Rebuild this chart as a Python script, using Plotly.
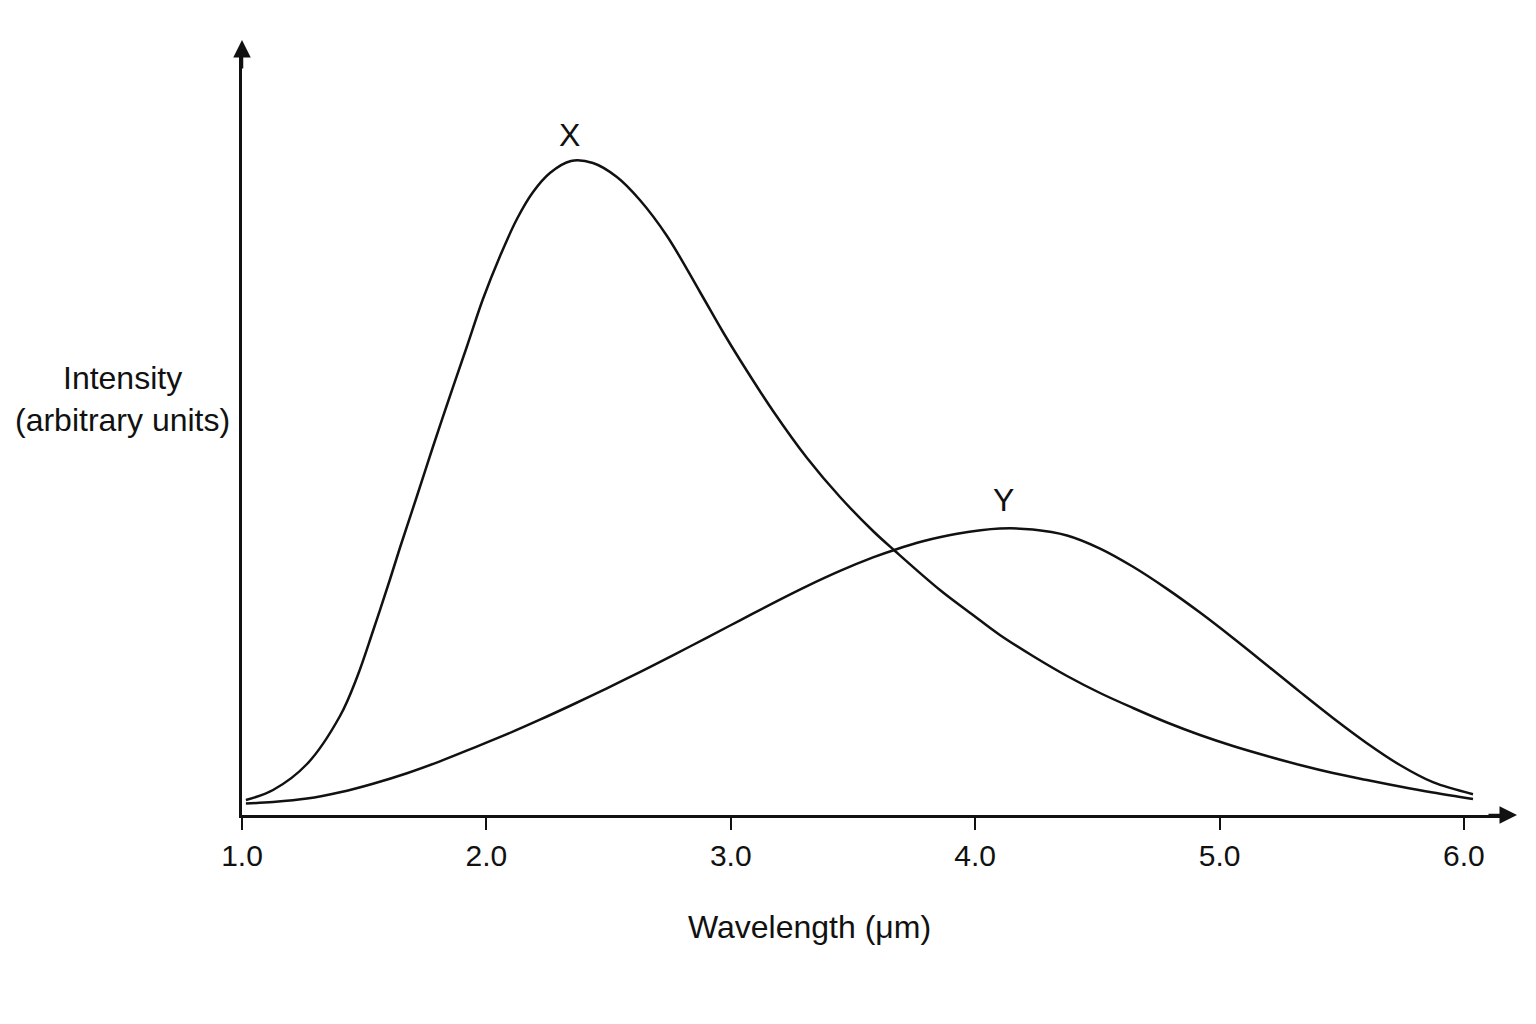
import plotly.graph_objects as go

# wavelength (um) and intensity (arbitrary units)
wl_x = [1.016, 1.127, 1.266, 1.401, 1.471, 1.536, 1.606, 1.646, 1.716, 1.781,
        1.851, 1.921, 1.986, 2.056, 2.125, 2.191, 2.260, 2.346, 2.436, 2.534,
        2.628, 2.739, 2.874, 2.968, 3.038, 3.173, 3.312, 3.447, 3.582, 3.672,
        3.856, 3.991, 4.101, 4.236, 4.376, 4.511, 4.646, 4.785, 4.920, 5.055,
        5.194, 5.329, 5.464, 5.603, 5.738, 5.873, 6.037]
int_x = [0.15, 0.25, 0.51, 0.99, 1.38, 1.84, 2.36, 2.67, 3.19, 3.68,
         4.19, 4.69, 5.16, 5.59, 5.96, 6.23, 6.42, 6.54, 6.52, 6.38,
         6.15, 5.79, 5.23, 4.83, 4.55, 4.04, 3.57, 3.18, 2.84, 2.64,
         2.25, 2.00, 1.80, 1.59, 1.39, 1.22, 1.07, 0.925, 0.80, 0.69,
         0.59, 0.50, 0.42, 0.35, 0.285, 0.225, 0.16]

wl_y = [1.016, 1.127, 1.266, 1.401, 1.536, 1.675, 1.810, 1.945, 2.084, 2.219,
        2.354, 2.493, 2.628, 2.763, 2.903, 3.038, 3.173, 3.312, 3.447, 3.582,
        3.672, 3.786, 3.926, 4.101, 4.236, 4.376, 4.511, 4.646, 4.785, 4.920,
        5.055, 5.194, 5.329, 5.464, 5.603, 5.738, 5.873, 6.037]
int_y = [0.115, 0.13, 0.164, 0.227, 0.313, 0.418, 0.537, 0.669, 0.808, 0.953,
         1.105, 1.267, 1.429, 1.597, 1.774, 1.947, 2.119, 2.289, 2.441, 2.576,
         2.653, 2.737, 2.812, 2.864, 2.855, 2.795, 2.664, 2.482, 2.261, 2.024,
         1.77, 1.498, 1.231, 0.97, 0.718, 0.50, 0.328, 0.208]

tick_vals = [1.0, 2.0, 3.0, 4.0, 5.0, 6.0]
tick_text = ["1.0", "2.0", "3.0", "4.0", "5.0", "6.0"]

FONT = "Liberation Sans, Arial, sans-serif"
BLACK = "#111111"

fig = go.Figure()
fig.add_trace(go.Scatter(x=wl_x, y=int_x, mode="lines", name="X",
                         line=dict(color=BLACK, width=2.5, shape="spline")))
fig.add_trace(go.Scatter(x=wl_y, y=int_y, mode="lines", name="Y",
                         line=dict(color=BLACK, width=2.5, shape="spline")))

# page body adds 8px, so the figure is a little smaller than the window
fig.update_layout(
    width=1520, height=1008,
    margin=dict(l=234, r=23, t=44, b=201),
    plot_bgcolor="white", paper_bgcolor="white",
    showlegend=False,
    font=dict(family=FONT, size=30, color=BLACK),
)

fig.update_xaxes(
    range=[1.0, 6.168], showgrid=False, zeroline=False,
    showline=True, linecolor=BLACK, linewidth=2.5,
    ticks="outside", ticklen=12, tickwidth=2, tickcolor=BLACK,
    tickvals=tick_vals, ticktext=tick_text,
    tickfont=dict(family=FONT, size=30, color=BLACK),
)
fig.update_yaxes(
    range=[0, 7.63], showgrid=False, zeroline=False,
    showline=True, linecolor=BLACK, linewidth=2.5,
    showticklabels=False, ticks="",
)

# arrow heads on the axes
fig.add_annotation(x=1.0095, y=0, xref="paper", yref="y", text="",
                   showarrow=True, ax=-30, ay=0, arrowhead=2, arrowsize=1.4,
                   arrowwidth=2.5, arrowcolor=BLACK)
fig.add_annotation(x=1.0, y=1.0157, xref="x", yref="paper", text="",
                   showarrow=True, ax=0, ay=30, arrowhead=2, arrowsize=1.4,
                   arrowwidth=2.5, arrowcolor=BLACK)

# curve labels
fig.add_annotation(x=2.342, y=6.80, text="X", showarrow=False,
                   xanchor="center", yanchor="middle", font=dict(size=32))
fig.add_annotation(x=4.114, y=3.15, text="Y", showarrow=False,
                   xanchor="center", yanchor="middle", font=dict(size=32))

# axis titles
fig.add_annotation(x=0.4497, y=-0.1468, xref="paper", yref="paper",
                   text="Wavelength (\u03bcm)", showarrow=False,
                   xanchor="center", yanchor="middle", font=dict(size=32))
fig.add_annotation(x=-0.095, y=0.545, xref="paper", yref="paper",
                   text="Intensity<br>(arbitrary units)", showarrow=False,
                   xanchor="center", yanchor="middle", align="center",
                   font=dict(size=32))

fig.write_html("out.html")
